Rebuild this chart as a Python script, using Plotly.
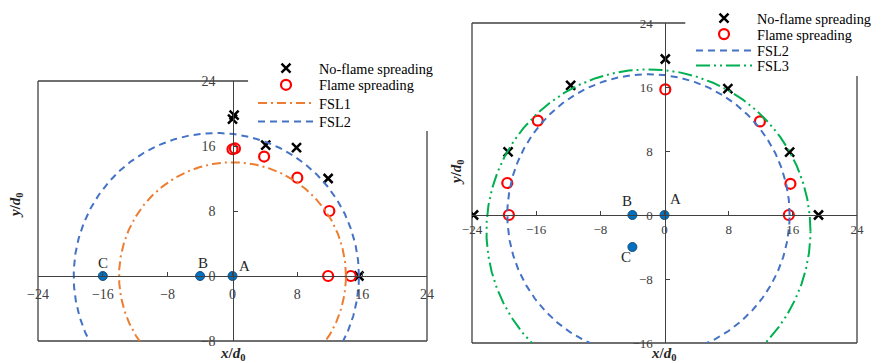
import numpy as np
import plotly.graph_objects as go

# ---------------- data ----------------
# Left panel
L_noflame_x = [0.2, 0.0, 4.1, 7.9, 11.8, 15.6]
L_noflame_y = [19.8, 19.3, 16.1, 15.8, 12.0, 0.0]
L_flame_x = [0.0, 0.3, 3.9, 8.0, 11.95, 11.8, 14.6]
L_flame_y = [15.6, 15.7, 14.7, 12.1, 8.0, 0.0, 0.0]
L_pts_x = [0, -4, -16]
L_pts_y = [0, 0, 0]
L_pts_labels = ["A", "B", "C"]

# Right panel
R_noflame_x = [0.1, -11.7, 7.9, -19.5, 15.6, -23.8, 19.2]
R_noflame_y = [19.5, 16.2, 15.8, 7.9, 7.85, 0.0, 0.0]
R_flame_x = [0.1, -15.8, 11.9, -19.6, 15.7, -19.4, 15.5]
R_flame_y = [15.7, 11.8, 11.7, 4.0, 3.9, 0.0, 0.0]
R_pts_x = [0, -4, -4]
R_pts_y = [0, 0, -4]
R_pts_labels = ["A", "B", "C"]

# Flame spreading limit circles: centre x, centre y, radius
FSL1 = (0.0, 0.0, 14.0)
FSL2 = (-2.0, 0.0, 17.6)
FSL3 = (-2.0, -2.0, 20.2)

x_ticks = [-24, -16, -8, 0, 8, 16, 24]
yL_ticks = [-8, 0, 8, 16, 24]
yR_ticks = [-16, -8, 0, 8, 16, 24]

legend_names = ["No-flame spreading", "Flame spreading"]

# ---------------- style / layout helpers ----------------
FONT = "Liberation Serif"
AX = "#404040"
C_ORANGE = "#ED7D31"
C_BLUE = "#4472C4"
C_GREEN = "#00B050"
C_PT = "#0070C0"

W, H = 885, 363
OFF = 8  # the browser's default body margin


def PX(p):  # target window pixel x -> paper fraction
    return (p - OFF) / W


def PY(p):  # target window pixel y -> paper fraction (from bottom)
    return 1 - (p - OFF) / H


dxL = [PX(38), PX(427)]
dyL = [PY(341), PY(81)]
dxR = [PX(472), PX(857)]
dyR = [PY(343), PY(23)]


def circle(c):
    cx, cy, r = c
    t = np.linspace(0, 2 * np.pi, 721)
    return cx + r * np.cos(t), cy + r * np.sin(t)


fig = go.Figure()


def add_panel(xa, ya, legs, noflame, flame, fsls, pts, labels, shifts):
    fig.add_trace(go.Scatter(x=noflame[0], y=noflame[1], mode="markers",
                             name=legend_names[0], xaxis=xa, yaxis=ya, legend=legs[0],
                             marker=dict(symbol="x-thin", size=9, color="black",
                                         line=dict(color="black", width=2.5))))
    fig.add_trace(go.Scatter(x=flame[0], y=flame[1], mode="markers",
                             name=legend_names[1], xaxis=xa, yaxis=ya, legend=legs[1],
                             marker=dict(symbol="circle-open", size=10, color="#FF0000",
                                         line=dict(color="#FF0000", width=2.2))))
    for (name, c, sty), lg in zip(fsls, legs[2:]):
        cx, cy = circle(c)
        fig.add_trace(go.Scatter(x=cx, y=cy, mode="lines", name=name,
                                 line=dict(color=sty[0], width=2, dash=sty[1]),
                                 xaxis=xa, yaxis=ya, legend=lg, hoverinfo="skip"))
    fig.add_trace(go.Scatter(x=pts[0], y=pts[1], mode="markers", showlegend=False,
                             xaxis=xa, yaxis=ya,
                             marker=dict(symbol="circle", size=9, color=C_PT,
                                         line=dict(color="#1F4E79", width=1))))
    for px, py, lab, (sx, sy) in zip(pts[0], pts[1], labels, shifts):
        fig.add_annotation(x=px, y=py, xref=xa, yref=ya, text=lab, showarrow=False,
                           xshift=sx, yshift=sy,
                           font=dict(family=FONT, size=15, color="#262626"))


legsL = ["legend", "legend2", "legend3", "legend4"]
legsR = ["legend5", "legend6", "legend7", "legend8"]

add_panel("x", "y", legsL, (L_noflame_x, L_noflame_y), (L_flame_x, L_flame_y),
          [("FSL1", FSL1, (C_ORANGE, "9px,4px,2px,4px")),
           ("FSL2", FSL2, (C_BLUE, "7px,5px"))],
          (L_pts_x, L_pts_y), L_pts_labels, [(12, 10), (3, 13), (0, 13)])
add_panel("x2", "y2", legsR, (R_noflame_x, R_noflame_y), (R_flame_x, R_flame_y),
          [("FSL2", FSL2, (C_BLUE, "7px,5px")),
           ("FSL3", FSL3, (C_GREEN, "14px,4px,2px,4px,2px,4px"))],
          (R_pts_x, R_pts_y), R_pts_labels, [(11, 16), (-5, 14), (-6, -10)])

common = dict(showline=True, linecolor=AX, linewidth=1.3, ticks="inside", ticklen=4,
              tickcolor=AX, tickwidth=1.2, showgrid=False, zeroline=False,
              anchor="free", fixedrange=True)

yL0 = dyL[0] + (0 - (-8)) / 32 * (dyL[1] - dyL[0])
xL0 = dxL[0] + 0.5 * (dxL[1] - dxL[0])
yR0 = dyR[0] + (0 - (-16)) / 40 * (dyR[1] - dyR[0])
xR0 = dxR[0] + 0.5 * (dxR[1] - dxR[0])

fontL = dict(family=FONT, size=14, color=AX)
fontR = dict(family=FONT, size=13, color=AX)
fig.update_layout(
    xaxis=dict(domain=dxL, range=[-24, 24], tickvals=x_ticks, position=yL0,
               ticklabelstandoff=5, tickfont=fontL, **common),
    yaxis=dict(domain=dyL, range=[-8, 24], tickvals=yL_ticks, position=xL0,
               ticklabelstandoff=14, tickfont=fontL, **common),
    xaxis2=dict(domain=dxR, range=[-24, 24], tickvals=x_ticks, position=yR0,
                ticklabelstandoff=2, tickfont=fontR, **common),
    yaxis2=dict(domain=dyR, range=[-16, 24], tickvals=yR_ticks, position=xR0,
                ticklabelstandoff=9, tickfont=fontR, **common),
)


# panel frames (partly hidden behind the legends in the reference)
def frame(xa, ya, top_end, right_top):
    xr, yr = xa + " domain", ya + " domain"
    for x0, y0, x1, y1 in [(0, 0, 1, 0), (0, 0, 0, 1), (0, 1, top_end, 1),
                           (1, 0, 1, right_top)]:
        fig.add_shape(type="line", xref=xr, yref=yr, x0=x0, y0=y0, x1=x1, y1=y1,
                      line=dict(color=AX, width=1.3), layer="below")


frame("x", "y", 0.54, 0.808)
frame("x2", "y2", 0.554, 0.834)

title_font = dict(family=FONT, size=15, color="#262626")
ytitle = "<b><i>y</i>/<i>d</i><sub>0</sub></b>"
xtitle = "<b><i>x</i>/<i>d</i><sub>0</sub></b>"
for tx, ty, txt, ang in [(PX(16), PY(205), ytitle, -90),
                         (PX(457), PY(172), ytitle, -90),
                         (PX(232), PY(354), xtitle, 0),
                         (PX(663), PY(354), xtitle, 0)]:
    fig.add_annotation(x=tx, y=ty, xref="paper", yref="paper", text=txt,
                       showarrow=False, textangle=ang, font=title_font,
                       xanchor="center", yanchor="middle")

# one legend box per entry so the entry spacing matches the reference
legfont = dict(family=FONT, size=14.3, color="black")
leg_layout = {}
for lg, ycen in zip(legsL, [68.3, 85.0, 103.3, 121.7]):
    leg_layout[lg] = dict(x=PX(253), y=PY(ycen), xanchor="left", yanchor="middle",
                          font=legfont, bgcolor="rgba(0,0,0,0)", itemwidth=56)
for lg, ycen in zip(legsR, [18.3, 34.3, 50.7, 65.7]):
    leg_layout[lg] = dict(x=PX(691), y=PY(ycen), xanchor="left", yanchor="middle",
                          font=legfont, bgcolor="rgba(0,0,0,0)", itemwidth=56)
fig.update_layout(**leg_layout)

fig.update_layout(
    width=W, height=H, autosize=False,
    margin=dict(l=0, r=0, t=0, b=0, autoexpand=False),
    paper_bgcolor="white", plot_bgcolor="white",
    showlegend=True,
)

fig.write_html("out.html", config={"displayModeBar": False})
